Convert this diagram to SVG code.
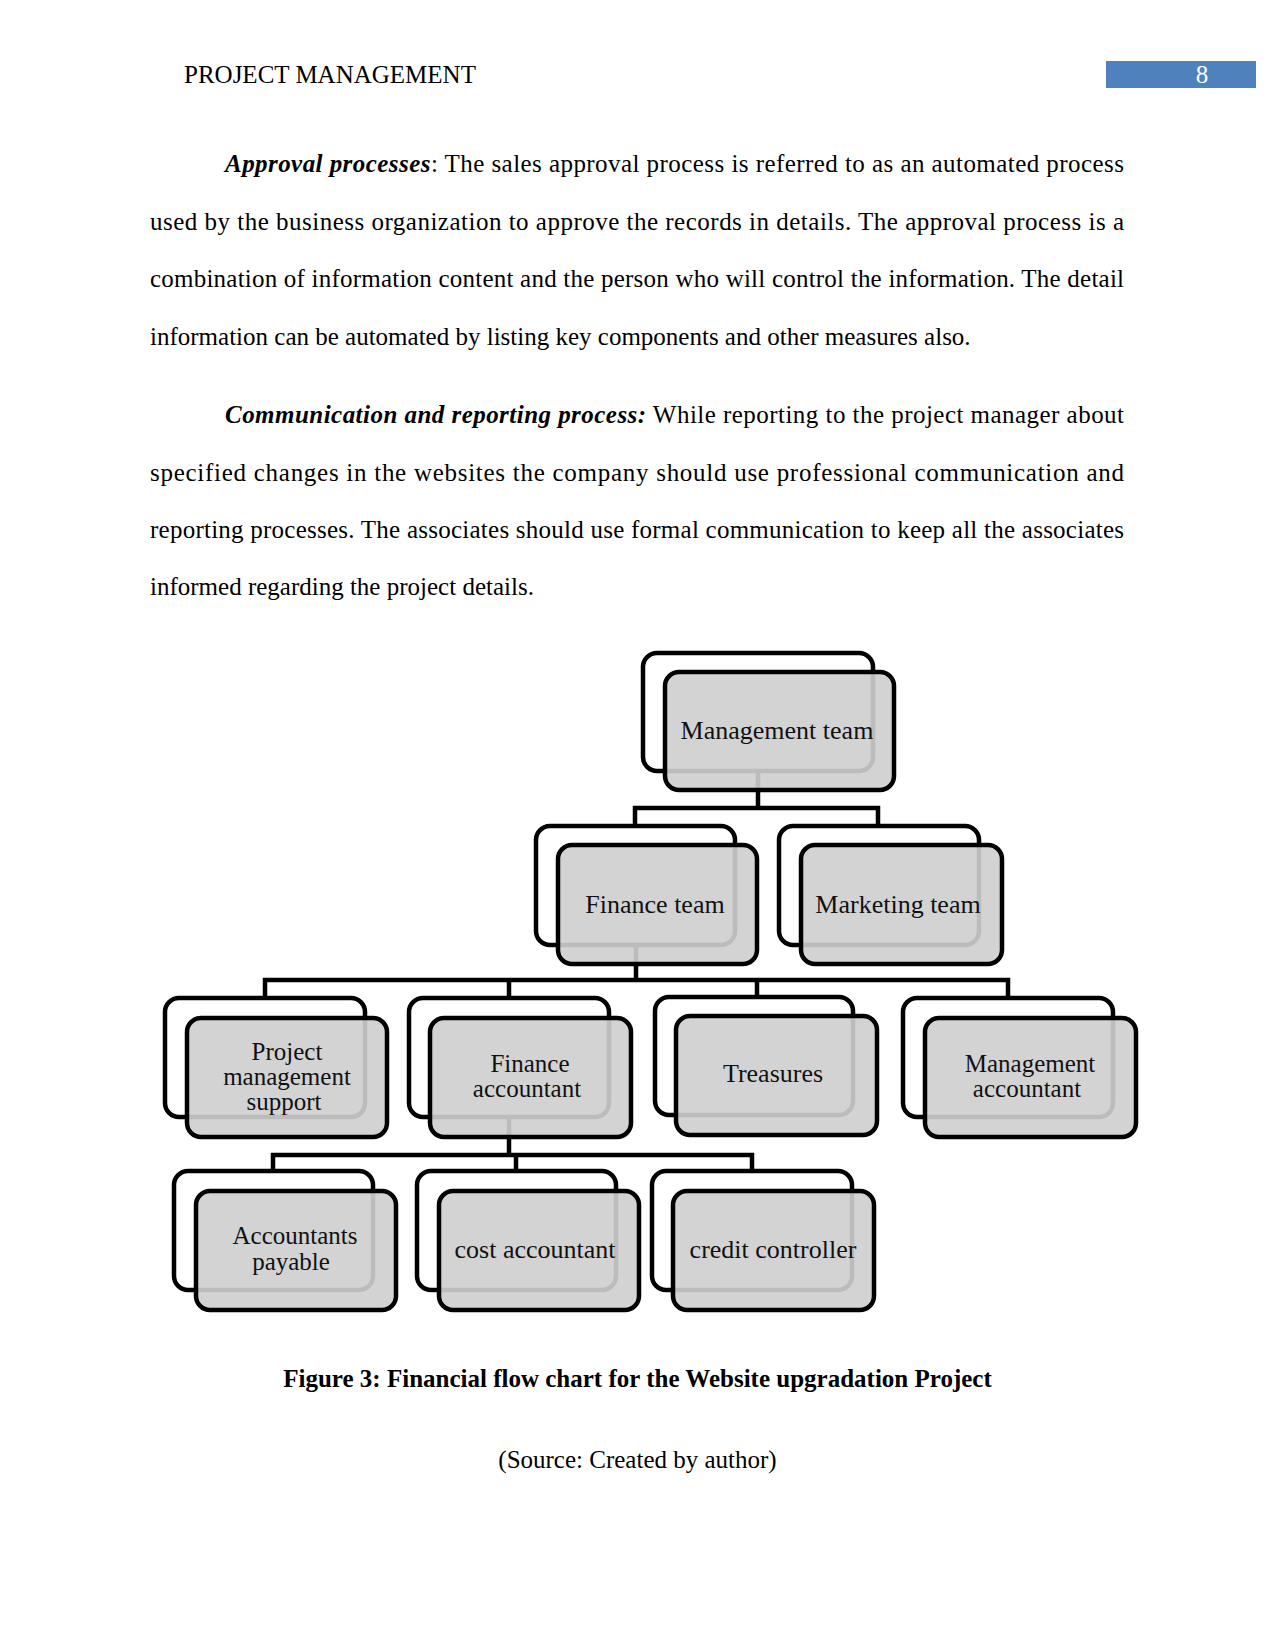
<svg xmlns="http://www.w3.org/2000/svg" width="1275" height="1650" viewBox="0 0 1275 1650">
<style>
.body{font-family:"Liberation Serif","Times New Roman",serif;font-size:25px;fill:#000}
.bi{font-weight:bold;font-style:italic}
.cap{font-family:"Liberation Serif","Times New Roman",serif;font-size:25px;fill:#000;text-anchor:middle}
.back{fill:#fff;stroke:#000;stroke-width:4.5}
.front{fill:#cfcfcf;fill-opacity:0.91;stroke:#000;stroke-width:4.5}
.lbl{font-family:"Liberation Serif","Times New Roman",serif;font-size:26px;fill:#111;text-anchor:middle}
.ml{font-size:25px}
.conn{fill:none;stroke:#000;stroke-width:4.5;stroke-linejoin:miter;stroke-linecap:square}
</style>
<rect width="1275" height="1650" fill="#fff"/>
<g id="header">
<text class="body" x="184" y="83">PROJECT MANAGEMENT</text>
<rect x="1106" y="61" width="150" height="27" fill="#4f81bd"/>
<text x="1202" y="83" font-family="Liberation Serif, serif" font-size="25" fill="#fff" text-anchor="middle">8</text>
</g>
<g id="paragraphs">
<text class="body" x="225" y="172" textLength="899" lengthAdjust="spacing"><tspan class="bi">Approval processes</tspan>: The sales approval process is referred to as an automated process</text>
<text class="body" x="150" y="229.5" textLength="974" lengthAdjust="spacing">used by the business organization to approve the records in details.  The approval process is a</text>
<text class="body" x="150" y="287" textLength="974" lengthAdjust="spacing">combination of information content and the person who will control the information. The detail</text>
<text class="body" x="150" y="344.5">information can be automated by listing key components and other measures also.</text>
<text class="body" x="225" y="423" textLength="899" lengthAdjust="spacing"><tspan class="bi">Communication and reporting process:</tspan>  While reporting to the project manager about</text>
<text class="body" x="150" y="480.5" textLength="974" lengthAdjust="spacing">specified changes in the websites the company should use professional communication and</text>
<text class="body" x="150" y="538" textLength="974" lengthAdjust="spacing">reporting processes. The associates should use formal communication to keep all the associates</text>
<text class="body" x="150" y="595">informed regarding the project details.</text>
</g>
<g id="connectors">
<path class="conn" d="M758 771 V808 M635 826 V808 H878 V826"/>
<path class="conn" d="M636 945 V980 M265 998 V980 H1008 V998 M509 980 V998 M757 980 V997"/>
<path class="conn" d="M509 1117 V1155 M273 1171 V1155 H752 V1171 M516 1155 V1171"/>
</g>
<g id="n-management-team">
<rect class="back" x="643" y="653" width="230" height="118" rx="14"/>
<rect class="front" x="665" y="672" width="229" height="118" rx="14"/>
<text class="lbl" x="777" y="739">Management team</text>
</g>
<g id="n-finance-team">
<rect class="back" x="536" y="826" width="199" height="119" rx="14"/>
<rect class="front" x="558" y="845" width="199" height="119" rx="14"/>
<text class="lbl" x="655" y="913">Finance team</text>
</g>
<g id="n-marketing-team">
<rect class="back" x="779" y="826" width="200" height="119" rx="14"/>
<rect class="front" x="801" y="845" width="201" height="119" rx="14"/>
<text class="lbl" x="898" y="913">Marketing team</text>
</g>
<g id="n-project-management-support">
<rect class="back" x="165" y="998" width="200" height="119" rx="14"/>
<rect class="front" x="187" y="1018" width="200" height="119" rx="14"/>
<text class="lbl ml" x="287" y="1060">Project</text>
<text class="lbl ml" x="287" y="1085">management</text>
<text class="lbl ml" x="284" y="1110">support</text>
</g>
<g id="n-finance-accountant">
<rect class="back" x="409" y="998" width="200" height="119" rx="14"/>
<rect class="front" x="430" y="1018" width="201" height="119" rx="14"/>
<text class="lbl ml" x="530" y="1072">Finance</text>
<text class="lbl ml" x="527" y="1097">accountant</text>
</g>
<g id="n-treasures">
<rect class="back" x="655" y="997" width="198" height="118" rx="14"/>
<rect class="front" x="676" y="1016" width="201" height="119" rx="14"/>
<text class="lbl" x="773" y="1082">Treasures</text>
</g>
<g id="n-management-accountant">
<rect class="back" x="903" y="998" width="210" height="119" rx="14"/>
<rect class="front" x="925" y="1018" width="211" height="119" rx="14"/>
<text class="lbl ml" x="1030" y="1072">Management</text>
<text class="lbl ml" x="1027" y="1097">accountant</text>
</g>
<g id="n-accountants-payable">
<rect class="back" x="174" y="1171" width="199" height="119" rx="14"/>
<rect class="front" x="196" y="1191" width="200" height="119" rx="14"/>
<text class="lbl ml" x="295" y="1244">Accountants</text>
<text class="lbl ml" x="291" y="1270">payable</text>
</g>
<g id="n-cost-accountant">
<rect class="back" x="417" y="1171" width="199" height="119" rx="14"/>
<rect class="front" x="439" y="1191" width="200" height="119" rx="14"/>
<text class="lbl" x="535" y="1258">cost accountant</text>
</g>
<g id="n-credit-controller">
<rect class="back" x="652" y="1171" width="200" height="119" rx="14"/>
<rect class="front" x="673" y="1191" width="201" height="119" rx="14"/>
<text class="lbl" x="773" y="1258">credit controller</text>
</g>
<g id="caption">
<text class="cap" x="637.5" y="1387" font-weight="bold">Figure 3: Financial flow chart for the Website upgradation Project</text>
<text class="cap" x="637.5" y="1468">(Source: Created by author)</text>
</g>
</svg>
